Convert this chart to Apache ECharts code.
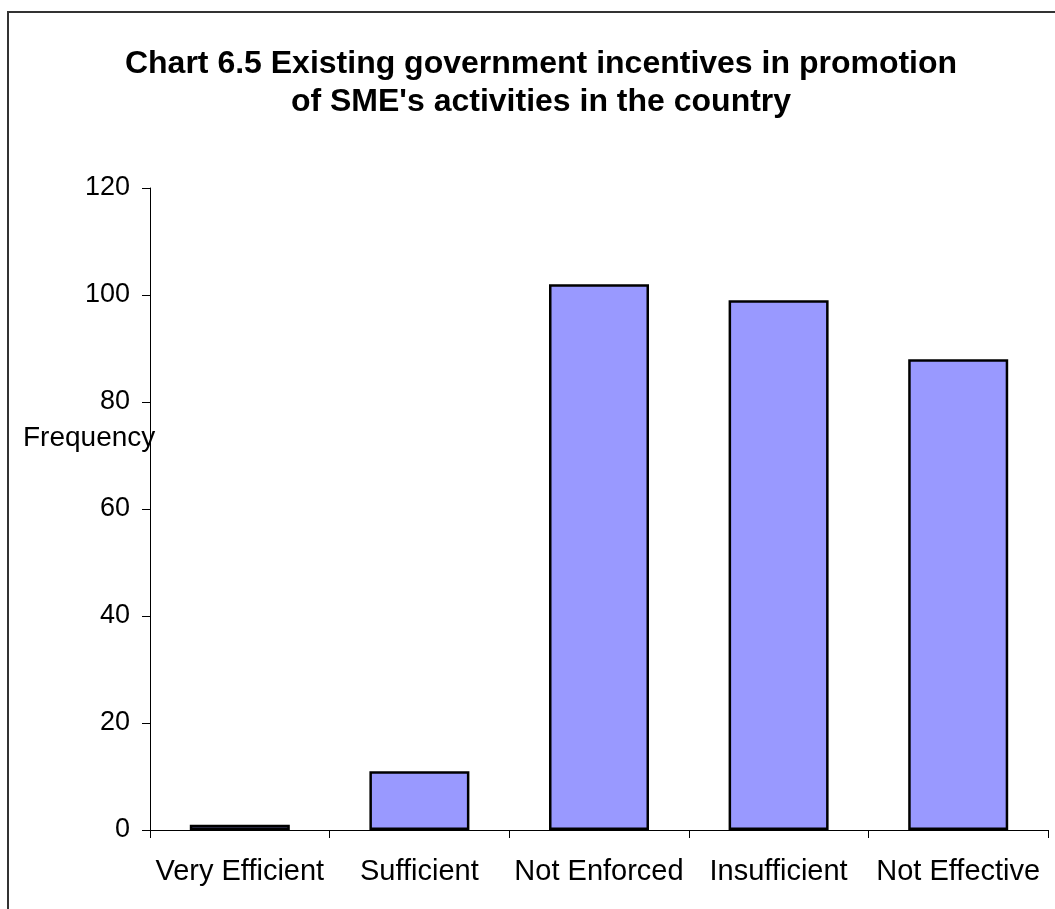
<!DOCTYPE html>
<html>
<head>
<meta charset="utf-8">
<title>Chart 6.5</title>
<script src="https://cdn.jsdelivr.net/npm/echarts@6/dist/echarts.min.js"></script>
<style>
  html, body { margin: 0; padding: 0; background: #fff; }
  #chart { width: 1055px; height: 909px; }
</style>
</head>
<body>
<div id="chart"></div>
<script>
// Survey answers and their counts
const categories = ['Very Efficient', 'Sufficient', 'Not Enforced', 'Insufficient', 'Not Effective'];
const frequency = [1, 11, 102, 99, 88];
const yTicks = { min: 0, max: 120, interval: 20 };

const titleText = "Chart 6.5 Existing government incentives in promotion\nof SME's activities in the country";
const yAxisTitle = 'Frequency';

const FONT = '"Liberation Sans", Arial, sans-serif';

const chart = echarts.init(document.getElementById('chart'), null, { renderer: 'canvas' });

chart.setOption({
  backgroundColor: '#ffffff',
  animation: false,
  title: {
    text: titleText,
    left: 536,
    top: 40,
    textAlign: 'center',
    textStyle: {
      fontFamily: FONT,
      fontSize: 32,
      fontWeight: 'bold',
      color: '#000',
      lineHeight: 38
    }
  },
  graphic: [
    {
      type: 'rect',
      shape: { x: 8, y: 12, width: 1100, height: 960 },
      style: { fill: 'none', stroke: '#333', lineWidth: 2 },
      silent: true,
      z: -1
    },
    {
      type: 'text',
      left: 23,
      top: 424,
      style: {
        text: yAxisTitle,
        fontFamily: FONT,
        fontSize: 28,
        fill: '#000'
      },
      z: 10
    }
  ],
  grid: { left: 150, right: 7, top: 188, bottom: 79, containLabel: false },
  xAxis: {
    type: 'category',
    data: categories,
    axisLine: { lineStyle: { color: '#000', width: 1 } },
    axisTick: { show: true, length: 8, inside: false, alignWithLabel: false, lineStyle: { color: '#000' } },
    axisLabel: {
      fontFamily: FONT,
      fontSize: 29,
      color: '#000',
      margin: 27,
      interval: 0
    },
    splitLine: { show: false }
  },
  yAxis: {
    type: 'value',
    min: yTicks.min,
    max: yTicks.max,
    interval: yTicks.interval,
    axisLine: { show: true, lineStyle: { color: '#000', width: 1 } },
    axisTick: { show: true, length: 8, lineStyle: { color: '#000' } },
    axisLabel: {
      fontFamily: FONT,
      fontSize: 27,
      color: '#000',
      margin: 20
    },
    splitLine: { show: false }
  },
  series: [{
    type: 'bar',
    data: frequency,
    barWidth: 100,
    itemStyle: {
      color: '#9999ff',
      borderColor: '#000',
      borderWidth: 2.5
    }
  }]
});
</script>
</body>
</html>
